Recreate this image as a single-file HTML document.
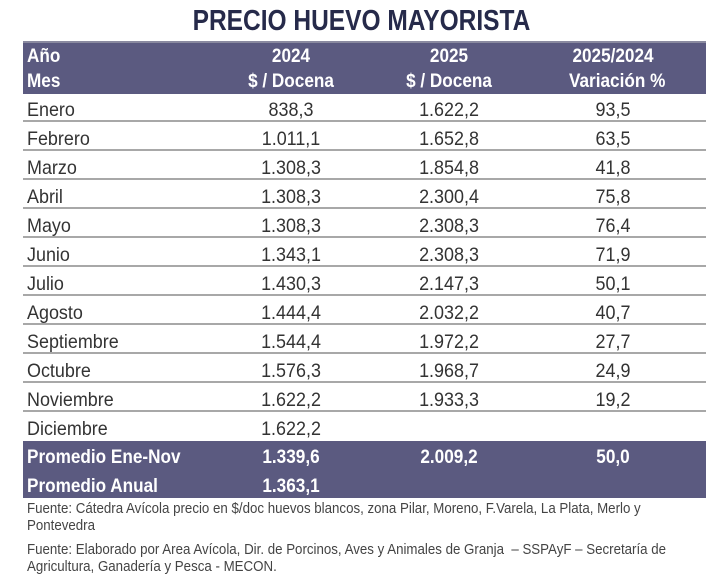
<!DOCTYPE html>
<html><head><meta charset="utf-8"><style>
body{margin:0;width:723px;height:580px;background:#fff;position:relative;font-family:"Liberation Sans",sans-serif;overflow:hidden}
.t{position:absolute;white-space:nowrap;line-height:1}
.title{left:0;width:723px;text-align:center;top:7px;font-size:28.5px;font-weight:bold;color:#262a4a;transform:scaleX(0.86)}
.hdr{position:absolute;left:23px;width:683px;top:41px;height:51px;background:#5b5a80;border-top:2px solid #8a8aa0}
.sum{position:absolute;left:23px;width:683px;top:441px;height:57px;background:#5b5a80}
.row{position:absolute;left:23px;width:683px;height:29px;border-bottom:2px solid #a8a8a8;box-sizing:border-box}
.c{position:absolute;font-size:19.5px;color:#333;line-height:1;white-space:nowrap;transform:scaleX(0.92)}
.w{color:#fff;font-weight:bold;transform:scaleX(0.88)}
.l{left:4px;transform-origin:left}
.a{left:218px;width:100px;text-align:center}
.b{left:376px;width:100px;text-align:center}
.d{left:540px;width:100px;text-align:center}
.row .c{top:8px}
.f{position:absolute;left:27px;font-size:14.3px;color:#444;white-space:nowrap;line-height:1;transform:scaleX(0.93);transform-origin:left}
</style></head><body>
<div class="t title">PRECIO HUEVO MAYORISTA</div>
<div class="hdr">
<div class="c w l" style="top:4px">Año</div><div class="c w a" style="top:4px">2024</div><div class="c w b" style="top:4px">2025</div><div class="c w d" style="top:4px">2025/2024</div>
<div class="c w l" style="top:29px">Mes</div><div class="c w a" style="top:29px">$ / Docena</div><div class="c w b" style="top:29px">$ / Docena</div><div class="c w d" style="top:29px">Variación %</div>
</div>
<div class="row" style="top:93px"><div class="c l">Enero</div><div class="c a">838,3</div><div class="c b">1.622,2</div><div class="c d">93,5</div></div>
<div class="row" style="top:122px"><div class="c l">Febrero</div><div class="c a">1.011,1</div><div class="c b">1.652,8</div><div class="c d">63,5</div></div>
<div class="row" style="top:151px"><div class="c l">Marzo</div><div class="c a">1.308,3</div><div class="c b">1.854,8</div><div class="c d">41,8</div></div>
<div class="row" style="top:180px"><div class="c l">Abril</div><div class="c a">1.308,3</div><div class="c b">2.300,4</div><div class="c d">75,8</div></div>
<div class="row" style="top:209px"><div class="c l">Mayo</div><div class="c a">1.308,3</div><div class="c b">2.308,3</div><div class="c d">76,4</div></div>
<div class="row" style="top:238px"><div class="c l">Junio</div><div class="c a">1.343,1</div><div class="c b">2.308,3</div><div class="c d">71,9</div></div>
<div class="row" style="top:267px"><div class="c l">Julio</div><div class="c a">1.430,3</div><div class="c b">2.147,3</div><div class="c d">50,1</div></div>
<div class="row" style="top:296px"><div class="c l">Agosto</div><div class="c a">1.444,4</div><div class="c b">2.032,2</div><div class="c d">40,7</div></div>
<div class="row" style="top:325px"><div class="c l">Septiembre</div><div class="c a">1.544,4</div><div class="c b">1.972,2</div><div class="c d">27,7</div></div>
<div class="row" style="top:354px"><div class="c l">Octubre</div><div class="c a">1.576,3</div><div class="c b">1.968,7</div><div class="c d">24,9</div></div>
<div class="row" style="top:383px"><div class="c l">Noviembre</div><div class="c a">1.622,2</div><div class="c b">1.933,3</div><div class="c d">19,2</div></div>
<div class="row" style="top:412px;border-bottom:none"><div class="c l">Diciembre</div><div class="c a">1.622,2</div></div>
<div class="sum">
<div class="c w l" style="top:7px">Promedio Ene-Nov</div><div class="c w a" style="top:7px">1.339,6</div><div class="c w b" style="top:7px">2.009,2</div><div class="c w d" style="top:7px">50,0</div>
<div class="c w l" style="top:36px">Promedio Anual</div><div class="c w a" style="top:36px">1.363,1</div>
</div>
<div class="f" style="top:502px">Fuente: Cátedra Avícola precio en $/doc huevos blancos, zona Pilar, Moreno, F.Varela, La Plata, Merlo y</div>
<div class="f" style="top:519px">Pontevedra</div>
<div class="f" style="top:543px">Fuente: Elaborado por Area Avícola, Dir. de Porcinos, Aves y Animales de Granja &nbsp;– SSPAyF – Secretaría de</div>
<div class="f" style="top:560px">Agricultura, Ganadería y Pesca - MECON.</div>
</body></html>
